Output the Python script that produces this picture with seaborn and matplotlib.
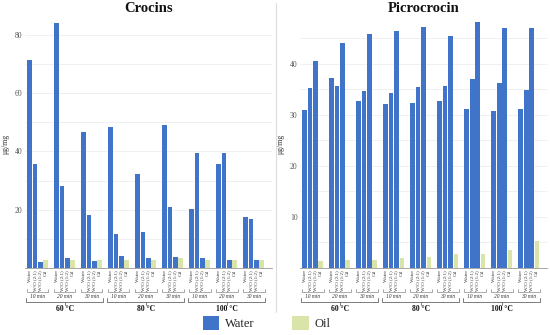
import matplotlib
matplotlib.use("Agg")
import matplotlib.pyplot as plt
import seaborn as sns
import pandas as pd
import numpy as np
from matplotlib.patches import Patch
from matplotlib.lines import Line2D

# ---- data ----
solvents = ["Water", "W/O (2:1)", "W/O (1:2)", "Oil"]
times = ["10 min", "20 min", "30 min"]
temps = ["60 °C", "80 °C", "100 °C"]

crocins_water = [71.3, 84.0, 46.5, 48.5, 32.4, 49.0, 20.2, 35.5, 17.6]
crocins_wo21 = [35.7, 28.1, 18.3, 11.5, 12.3, 21.0, 39.4, 39.5, 16.8]
crocins_wo12 = [2.1, 3.3, 2.5, 4.1, 3.3, 3.8, 3.3, 2.9, 2.6]
crocins_oil = [2.9, 2.9, 2.9, 2.9, 2.6, 3.3, 2.6, 2.6, 2.6]

picro_water = [31.0, 37.1, 32.7, 32.0, 32.2, 32.7, 31.2, 30.7, 31.2]
picro_wo21 = [35.2, 35.7, 34.6, 34.2, 35.4, 35.7, 37.0, 36.1, 34.8]
picro_wo12 = [40.5, 44.1, 45.8, 46.3, 47.1, 45.3, 48.2, 46.9, 47.0]
picro_oil = [1.3, 1.5, 1.5, 1.9, 2.2, 2.8, 2.8, 3.5, 5.2]

BLUE = "#3f74c9"
GREEN = "#d8e4a8"
SERIF = ["Liberation Serif", "DejaVu Serif"]

def make_df(w, a, b, o):
    rows = []
    for g in range(9):
        for j, vals in enumerate([w, a, b, o]):
            rows.append({"pos": g * 5 + j, "value": vals[g],
                         "kind": "Oil" if j == 3 else "Water"})
    return pd.DataFrame(rows)

sns.set_theme(style="white")
plt.rcParams["font.family"] = SERIF

fig = plt.figure(figsize=(5.5, 3.35), dpi=100)
ax1 = fig.add_axes([0.0458, 0.2, 0.449, 0.740])
ax2 = fig.add_axes([0.546, 0.2, 0.449, 0.740])

panels = [
    (ax1, make_df(crocins_water, crocins_wo21, crocins_wo12, crocins_oil), "Crocins", 85, 20, 10),
    (ax2, make_df(picro_water, picro_wo21, picro_wo12, picro_oil), "Picrocrocin", 48.5, 10, 5),
]

def yfrac(py):
    return -(py - 268) / 248.0

for ax, df, title, ymax, major, minor in panels:
    sns.barplot(data=df, x="pos", y="value", hue="kind", palette={"Water": BLUE, "Oil": GREEN},
                dodge=False, native_scale=True, width=0.88, legend=False, ax=ax,
                saturation=1, errorbar=None, linewidth=0)
    ax.set_xlim(-0.8, 44.9)
    ax.set_ylim(0, ymax)
    ax.set_yticks(np.arange(major, ymax, major))
    ax.set_yticks(np.arange(minor, ymax, minor), minor=True)
    ax.yaxis.grid(True, which="both", color="#eeeeee", linewidth=0.6)
    ax.set_axisbelow(True)
    ax.tick_params(axis="y", labelsize=5.5, colors="#555555", length=0, pad=2)
    for lab in ax.get_yticklabels():
        lab.set_fontfamily(SERIF)
    ax.set_xticks([])
    ax.set_xlabel("")
    ax.set_ylabel("μg/mg", fontsize=5.5, color="#333333", labelpad=4)
    for s in ["top", "right", "left"]:
        ax.spines[s].set_visible(False)
    ax.spines["bottom"].set_color("#999999")
    ax.spines["bottom"].set_linewidth(0.6)
    ax.set_title(title, fontsize=10.5, fontweight="bold", color="#111111", pad=6)

    tr = ax.get_xaxis_transform()
    # solvent labels
    for g in range(9):
        for j, s in enumerate(solvents):
            ax.text(g * 5 + j, yfrac(270), s, rotation=90, ha="center", va="top",
                    fontsize=3.6, color="#333333", transform=tr)
    # time brackets
    for g in range(9):
        x0, x1 = g * 5 - 0.5, g * 5 + 3.5
        ax.add_line(Line2D([x0, x0, x1, x1], [yfrac(289), yfrac(292), yfrac(292), yfrac(289)],
                           transform=tr, color="#888888", lw=0.5, clip_on=False))
        ax.text(g * 5 + 1.5, yfrac(294.5), times[g % 3], ha="center", va="top",
                fontsize=4, style="italic", color="#333333", transform=tr)
    # temperature brackets
    for t in range(3):
        x0, x1 = t * 15 - 0.6, t * 15 + 13.6
        xc = t * 15 + 6.5
        ax.add_line(Line2D([x0, x0, x1, x1], [yfrac(298), yfrac(302), yfrac(302), yfrac(298)],
                           transform=tr, color="#666666", lw=0.6, clip_on=False))
        ax.add_line(Line2D([xc, xc], [yfrac(302), yfrac(305)],
                           transform=tr, color="#666666", lw=0.6, clip_on=False))
        ax.text(xc, yfrac(305.5), temps[t], ha="center", va="top",
                fontsize=5.5, fontweight="bold", color="#111111", transform=tr)

# separator line between panels
fig.add_artist(Line2D([0.502, 0.502], [0.07, 0.99], transform=fig.transFigure,
                      color="#dddddd", lw=0.8))

handles = [Patch(facecolor=BLUE, edgecolor="none", label="Water"),
           Patch(facecolor=GREEN, edgecolor="none", label="Oil")]
fig.legend(handles=handles, loc="center", bbox_to_anchor=(0.485, 0.035), ncol=2,
           frameon=False, fontsize=9, handlelength=1.3, handleheight=1.3,
           columnspacing=3.0, handletextpad=0.5)

fig.savefig("out.png", dpi=100)
